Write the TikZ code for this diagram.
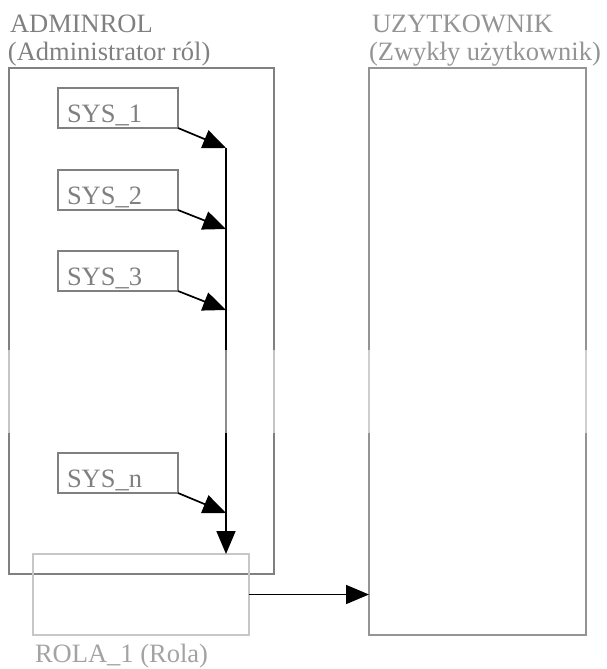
\documentclass[tikz,border=0pt]{standalone}
\usepackage{fontspec}
\setmainfont{Liberation Serif}
\usetikzlibrary{arrows.meta,calc}
\definecolor{frame}{gray}{0.50}
\definecolor{frameB}{gray}{0.58}
\definecolor{rolaline}{gray}{0.78}
\definecolor{rolatext}{gray}{0.64}
\tikzset{
  every node/.style={font=\fontsize{26.5}{27}\selectfont, inner sep=0pt, outer sep=0pt},
  groupbox/.style={draw=frame, line width=1.6pt, anchor=north west},
  sysbox/.style={draw=frame, line width=1.6pt, anchor=north west, minimum width=120pt, minimum height=40pt},
  rolabox/.style={draw=rolaline, line width=1.6pt, anchor=north west, minimum width=216pt, minimum height=81pt},
  caption/.style={anchor=base west, text=frame},
  flow/.style={draw=black, line width=1.7pt, -{Triangle[length=23pt,width=19pt]}},
}
\begin{document}
\begin{tikzpicture}[x=1pt,y=-1pt]
\useasboundingbox (0,0) rectangle (606,669);
\fill[white] (0,0) rectangle (606,669);

% group frames
\node[groupbox, minimum width=265pt, minimum height=506pt] (admin) at (9,68) {};
\node[groupbox, draw=frameB, minimum width=217pt, minimum height=567pt] (user) at (369,68) {};

% titles
\node[caption] (admint1) at (10,33) {ADMINROL};
\node[caption] (admint2) at (8,60) {(Administrator ról)};
\node[caption, text=frameB] (usert1) at (372,33) {UZYTKOWNIK};
\node[caption, text=frameB] (usert2) at (369,60) {(Zwykły użytkownik)};

% system privilege boxes
\node[sysbox] (s1) at (58,88) {};
\node[sysbox] (s2) at (58,170) {};
\node[sysbox] (s3) at (58,251) {};
\node[sysbox] (sn) at (58,453) {};
\node[caption] at (67,122) {SYS\_1};
\node[caption] at (67,204) {SYS\_2};
\node[caption] at (67,285) {SYS\_3};
\node[caption] at (67,487) {SYS\_n};

% role box
\node[rolabox] (rola) at (33,554) {};
\node[caption, text=rolatext] (rolat) at (35,662) {ROLA\_1 (Rola)};

% collecting line
\coordinate (j1) at (226,148);
\coordinate (j2) at (226,229);
\coordinate (j3) at (226,310);
\coordinate (jn) at (226,513);
\path[flow] (s1.south east) -- (j1);
\path[flow] (s2.south east) -- (j2);
\path[flow] (s3.south east) -- (j3);
\path[flow] (sn.south east) -- (jn);
\path[flow] (j1) -- (j1 |- rola.north);

% role granted to user
\path[flow] (rola.east) -- (rola.east -| user.west);

% faded band across the picture
\fill[white, opacity=0.55] (0,350) rectangle (606,433);
\end{tikzpicture}
\end{document}
